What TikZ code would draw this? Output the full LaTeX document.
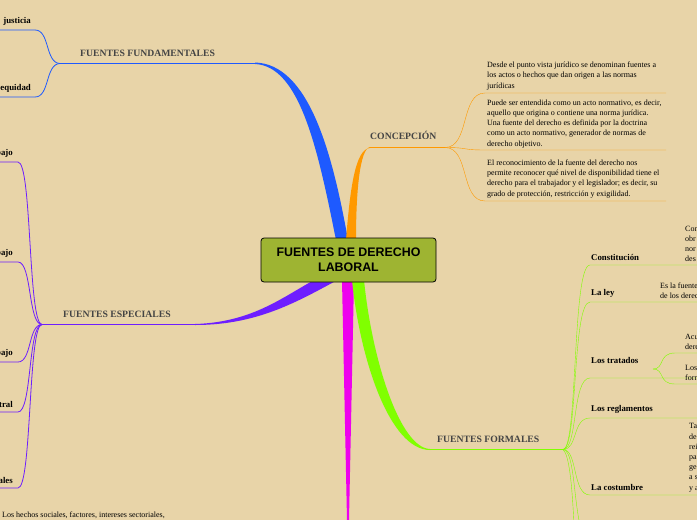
\documentclass[tikz,border=0pt]{standalone}
\usepackage{fontspec}
\setmainfont{Liberation Serif}
\newfontfamily\headfont{Liberation Sans}
\usetikzlibrary{positioning}
\definecolor{bgc}{RGB}{232,212,168}
\definecolor{rootc}{RGB}{158,180,50}
\definecolor{bluec}{RGB}{30,90,255}
\definecolor{orangec}{RGB}{255,153,0}
\definecolor{purplec}{RGB}{110,30,255}
\definecolor{magc}{RGB}{238,0,238}
\definecolor{greenc}{RGB}{128,255,0}
\definecolor{labc}{RGB}{68,68,68}
\tikzset{
  mainlab/.style={font=\fontsize{9.7}{11}\selectfont\bfseries, text=labc, inner sep=0pt, anchor=south west},
  sublab/.style={font=\fontsize{8.8}{10}\selectfont\bfseries, inner sep=0pt, anchor=south west},
  note/.style={font=\fontsize{8}{10.2}\selectfont, inner sep=0pt, anchor=south west, align=left},
}
\begin{document}
\begin{tikzpicture}[x=1pt,y=-1pt]
\useasboundingbox (0,0) rectangle (697,520);
\fill[bgc] (0,0) rectangle (697,520);
\clip (0,0) rectangle (697,520);
% thick branches
\fill[bluec] (336,240) .. controls (318,150) and (300,66) .. (255,64) -- (255,62.5) .. controls (308,64) and (332,150) .. (348,240) -- cycle;
\fill[orangec] (346,240) .. controls (350,190) and (355,149) .. (370,148) -- (370,147) .. controls (360,149) and (356,190) .. (356,240) -- cycle;
\fill[purplec] (345,276) .. controls (300,300) and (260,325) .. (195,325) -- (195,324) .. controls (260,322) and (290,290) .. (330,272) -- cycle;
\fill[magc] (342,280) -- (354,280) -- (349,520) -- (347,520) -- cycle;
\fill[greenc] (352,280) .. controls (360,360) and (390,450) .. (430,450) -- (430,449) .. controls (400,448) and (372,360) .. (364,280) -- cycle;
% root
\node[draw=black, fill=rootc, rounded corners=3pt, line width=0.8pt, minimum width=175pt, minimum height=44pt,
  font=\headfont\fontsize{12.4}{15}\selectfont\bfseries, align=center] (root) at (348.5,260) {FUENTES DE DERECHO\\LABORAL};
% FUENTES FUNDAMENTALES
\draw[bluec, line width=1pt] (255,63.5) -- (60,63.5);
\node[mainlab] (fund) at (80,57) {FUENTES FUNDAMENTALES};
\draw[bluec, thick] (60,63.5) .. controls (45,63) and (50,30) .. (35,30) -- (0,30);
\draw[bluec, thick] (60,63.5) .. controls (45,64) and (50,97) .. (35,97) -- (0,97);
\node[sublab, anchor=south east] (just) at (31,26) {justicia};
\node[sublab, anchor=south east] (equi) at (31,93) {equidad};
% CONCEPCION
\draw[orangec, line width=1pt] (370,147.5) -- (445,147.5);
\node[mainlab] (conc) at (370,140) {CONCEPCIÓN};
\foreach \yy in {93,150,201}
  \draw[orangec] (445,147.5) .. controls (470,147.5) and (460,\yy) .. (485,\yy) -- (666,\yy);
\node[note] (c1) at (487,90) {Desde el punto vista jurídico se denominan fuentes a\\los actos o hechos que dan origen a las normas\\jurídicas};
\node[note] (c2) at (487,148) {Puede ser entendida como un acto normativo, es decir,\\aquello que origina o contiene una norma jurídica.\\Una fuente del derecho es definida por la doctrina\\como un acto normativo, generador de normas de\\derecho objetivo.};
\node[note] (c3) at (487,198) {El reconocimiento de la fuente del derecho nos\\permite reconocer qué nivel de disponibilidad tiene el\\derecho para el trabajador y el legislador; es decir, su\\grado de protección, restricción y exigilidad.};
% FUENTES ESPECIALES
\draw[purplec, line width=1pt] (195,324.5) -- (42,324.5);
\node[mainlab] (esp) at (63,318) {FUENTES ESPECIALES};
\foreach \yy in {162,262,362,412,488}
  \draw[purplec, thick] (42,324.5) .. controls (28,324.5) and (32,\yy) .. (18,\yy) -- (0,\yy);
\node[sublab, anchor=south east] (e1) at (13,158) {bajo};
\node[sublab, anchor=south east] (e2) at (13,258) {bajo};
\node[sublab, anchor=south east] (e3) at (13,358) {bajo};
\node[sublab, anchor=south east] (e4) at (13,408) {tral};
\node[sublab, anchor=south east] (e5) at (13,484) {ales};
\node[note] (e6) at (2,519) {Los hechos sociales, factores, intereses sectoriales,};
% FUENTES FORMALES
\draw[greenc, line width=1pt] (430,449.5) -- (563,449.5);
\node[mainlab] (form) at (437,443) {FUENTES FORMALES};
\foreach \yy in {265,302,378,418,495,540}
  \draw[greenc] (563,449.5) .. controls (578,449.5) and (572,\yy) .. (590,\yy) -- (697,\yy);
\draw[greenc] (563,449.5) .. controls (575,460) and (573,560) .. (578,560);
\node[sublab] (f1) at (591,261) {Constitución};
\node[sublab] (f2) at (591,298) {La ley};
\node[sublab] (f3) at (591,364) {Los tratados};
\node[sublab] (f4) at (591,414) {Los reglamentos};
\node[sublab] (f5) at (591,491) {La costumbre};
\draw[greenc] (653,369) .. controls (665,369) and (658,353) .. (675,353) -- (697,353);
\draw[greenc] (653,369) .. controls (665,369) and (658,384) .. (675,384) -- (697,384);
\node[note] (t1) at (685,262) {Con\\obr\\nor\\des};
\node[note] (t2) at (660,299) {Es la fuente\\de los derec};
\node[note] (t3) at (685,350) {Acu\\dere};
\node[note] (t4) at (685,381) {Los\\form};
\node[note] (t5) at (689,492) {Ta\\de\\rei\\pa\\ge\\a s\\y a};
\end{tikzpicture}
\end{document}
